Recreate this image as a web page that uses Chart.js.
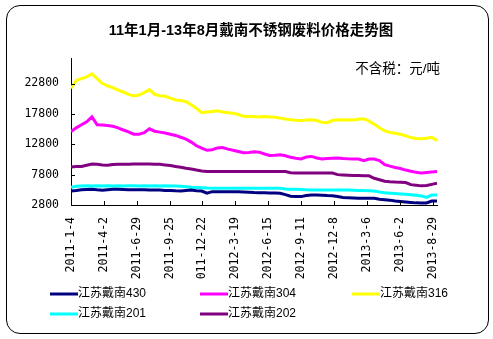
<!DOCTYPE html>
<html>
<head>
<meta charset="utf-8">
<script src="https://cdn.jsdelivr.net/npm/chart.js@4/dist/chart.umd.min.js"></script>
<style>
  html, body { margin: 0; padding: 0; background: #fff; }
  #frame { position: absolute; left: 6px; top: 5px; width: 483px; height: 329px;
           box-sizing: border-box; border: 1px solid #000; border-radius: 14px; }
  #c { position: absolute; left: 0; top: 0; }
</style>
</head>
<body>
<div id="frame"></div>
<canvas id="c" width="493" height="339"></canvas>
<script>
// Days counted from 2011-1-4, sampled every two weeks
const days = [0,14,28,42,56,70,84,98,112,126,140,154,168,182,196,210,224,238,252,266,280,294,308,322,336,350,364,378,392,406,420,434,448,462,476,490,504,518,532,546,560,574,588,602,616,630,644,658,672,686,700,714,728,742,756,770,784,798,812,826,840,854,868,882,896,910,924,938,952,966,980];

// Prices, yuan per tonne (tax excluded)
const s430 = [5120,5200,5300,5350,5400,5300,5230,5300,5380,5400,5350,5300,5300,5320,5300,5280,5280,5250,5200,5200,5150,5120,5200,5250,5150,5100,4750,5000,5000,5000,5000,5000,5000,4950,4900,4850,4830,4800,4780,4760,4740,4500,4250,4200,4180,4350,4460,4450,4400,4360,4340,4200,4020,3980,3950,3930,3920,3910,3900,3750,3680,3600,3450,3380,3300,3220,3150,3130,3130,3450,3460];
const s304 = [14900,15500,16000,16500,17300,16000,15950,15900,15750,15500,15150,14850,14450,14450,14700,15350,14950,14800,14650,14450,14250,13950,13650,13150,12550,12150,11800,11900,12200,12250,12000,11800,11600,11400,11450,11550,11500,11200,10950,11000,11080,10900,10650,10500,10380,10700,10800,10550,10380,10450,10500,10550,10450,10400,10380,10380,10100,10370,10370,10100,9450,9200,8980,8800,8550,8350,8200,8050,8150,8250,8300];
const s316 = [22000,23300,23600,23900,24400,23600,22800,22400,22100,21700,21400,21000,20750,20900,21300,21800,21000,20800,20700,20400,20100,20000,19800,19300,18700,18000,18100,18200,18300,18100,18000,17900,17700,17400,17350,17350,17300,17350,17300,17250,17100,16950,16850,16750,16700,16800,16850,16700,16400,16350,16700,16850,16800,16850,16800,16900,17000,16600,16100,15500,15000,14750,14600,14450,14200,13900,13750,13700,13800,13950,13400];
const s201 = [5730,5900,5930,5950,5920,5950,5930,5950,5920,5950,5940,5950,5950,5930,5950,5940,5950,5930,5950,5940,5920,5880,5800,5730,5700,5650,5600,5570,5570,5570,5570,5570,5570,5570,5570,5570,5570,5570,5570,5570,5570,5420,5400,5380,5350,5300,5280,5280,5280,5280,5280,5270,5260,5250,5230,5200,5180,5150,5100,4950,4830,4750,4680,4620,4570,4480,4400,4300,4050,4450,4460];
const s202 = [9050,9150,9150,9350,9550,9500,9400,9350,9480,9500,9520,9520,9540,9540,9540,9540,9520,9500,9400,9300,9150,9000,8850,8720,8550,8400,8310,8310,8310,8310,8310,8310,8310,8310,8310,8310,8310,8310,8310,8310,8310,8310,8100,8050,8050,8050,8050,8050,8050,8050,8050,7800,7750,7700,7650,7650,7600,7600,7200,6950,6700,6620,6580,6560,6500,6150,6050,5950,6000,6200,6400];

const seriesNames = ['江苏戴南430','江苏戴南304','江苏戴南316','江苏戴南201','江苏戴南202'];
const seriesColors = ['#000080','#FF00FF','#FFFF00','#00FFFF','#800080'];

// Axis ticks
const tickDays = [0,88,176,264,352,440,528,616,704,792,880,968];
const tickLabels = ['2011-1-4','2011-4-2','2011-6-29','2011-9-25','011-12-22','2012-3-19','2012-6-15','2012-9-11','2012-12-8','2013-3-6','2013-6-2','2013-8-29'];
const yTicks = [2800,7800,12800,17800,22800];

const titleText = '11年1月-13年8月戴南不锈钢废料价格走势图';
const unitText = '不含税：元/吨';

const cjk = '"Liberation Sans", "Noto Sans CJK SC", sans-serif';
const mono = '"DejaVu Sans Mono", monospace';

const seriesValues = [s430, s304, s316, s201, s202];
const datasets = seriesValues.map((vals, i) => ({
  label: seriesNames[i],
  data: days.map((d, k) => ({ x: d, y: vals[k] })),
  borderColor: seriesColors[i],
  backgroundColor: seriesColors[i],
  borderWidth: 3,
  pointRadius: 0,
  tension: 0,
  fill: false
}));

// Title, inward tick marks, unit note and a grid-style legend
const decor = {
  id: 'decor',
  afterDraw(chart) {
    const ctx = chart.ctx;
    const xs = chart.scales.x, ys = chart.scales.y, a = chart.chartArea;
    ctx.save();

    ctx.fillStyle = '#000';
    ctx.font = 'bold 14.5px ' + cjk;
    ctx.textAlign = 'center';
    ctx.textBaseline = 'middle';
    ctx.fillText(titleText, 251, 31);

    ctx.strokeStyle = '#000';
    ctx.lineWidth = 1;
    ctx.beginPath();
    tickDays.forEach(v => {
      const px = Math.round(xs.getPixelForValue(v)) + 0.5;
      ctx.moveTo(px, a.bottom);
      ctx.lineTo(px, a.bottom - 4);
    });
    yTicks.forEach(v => {
      const py = Math.round(ys.getPixelForValue(v)) + 0.5;
      ctx.moveTo(a.left, py);
      ctx.lineTo(a.left + 4, py);
    });
    ctx.stroke();

    ctx.font = '13.5px ' + cjk;
    ctx.textAlign = 'right';
    ctx.fillText(unitText, 440, 69);

    const colX = [50, 200, 352];
    const rowY = [294, 314];
    ctx.font = '12px ' + cjk;
    ctx.textAlign = 'left';
    chart.data.datasets.forEach((ds, i) => {
      const lx = colX[i % 3], ly = rowY[Math.floor(i / 3)];
      ctx.strokeStyle = ds.borderColor;
      ctx.lineWidth = 3;
      ctx.beginPath();
      ctx.moveTo(lx, ly);
      ctx.lineTo(lx + 28, ly);
      ctx.stroke();
      ctx.fillStyle = '#000';
      ctx.fillText(ds.label, lx + 28, ly);
    });
    ctx.restore();
  }
};

new Chart(document.getElementById('c'), {
  type: 'line',
  data: { datasets },
  options: {
    responsive: false,
    animation: false,
    layout: { padding: { left: 11, right: 56, top: 58, bottom: 54 } },
    plugins: {
      legend: { display: false },
      tooltip: { enabled: false },
      title: { display: false }
    },
    scales: {
      x: {
        type: 'linear',
        min: 0,
        max: 980,
        afterFit(scale) { scale.height = 80; },
        afterBuildTicks(scale) { scale.ticks = tickDays.map(v => ({ value: v })); },
        grid: { display: true, drawOnChartArea: false, drawTicks: false },
        border: { display: true, color: '#000', width: 1 },
        ticks: {
          autoSkip: false,
          minRotation: 90,
          maxRotation: 90,
          padding: 12,
          color: '#000',
          font: { family: mono, size: 11.5 },
          callback(v) { const i = tickDays.indexOf(v); return i >= 0 ? tickLabels[i] : null; }
        }
      },
      y: {
        type: 'linear',
        min: 2800,
        max: 27000,
        afterFit(scale) { scale.width = 60; },
        afterBuildTicks(scale) { scale.ticks = yTicks.map(v => ({ value: v })); },
        grid: { display: true, drawOnChartArea: false, drawTicks: false },
        border: { display: true, color: '#000', width: 1 },
        ticks: {
          padding: 12,
          color: '#000',
          font: { family: mono, size: 11.5 },
          callback(v) { return String(v); }
        }
      }
    }
  },
  plugins: [decor]
});
</script>
</body>
</html>
